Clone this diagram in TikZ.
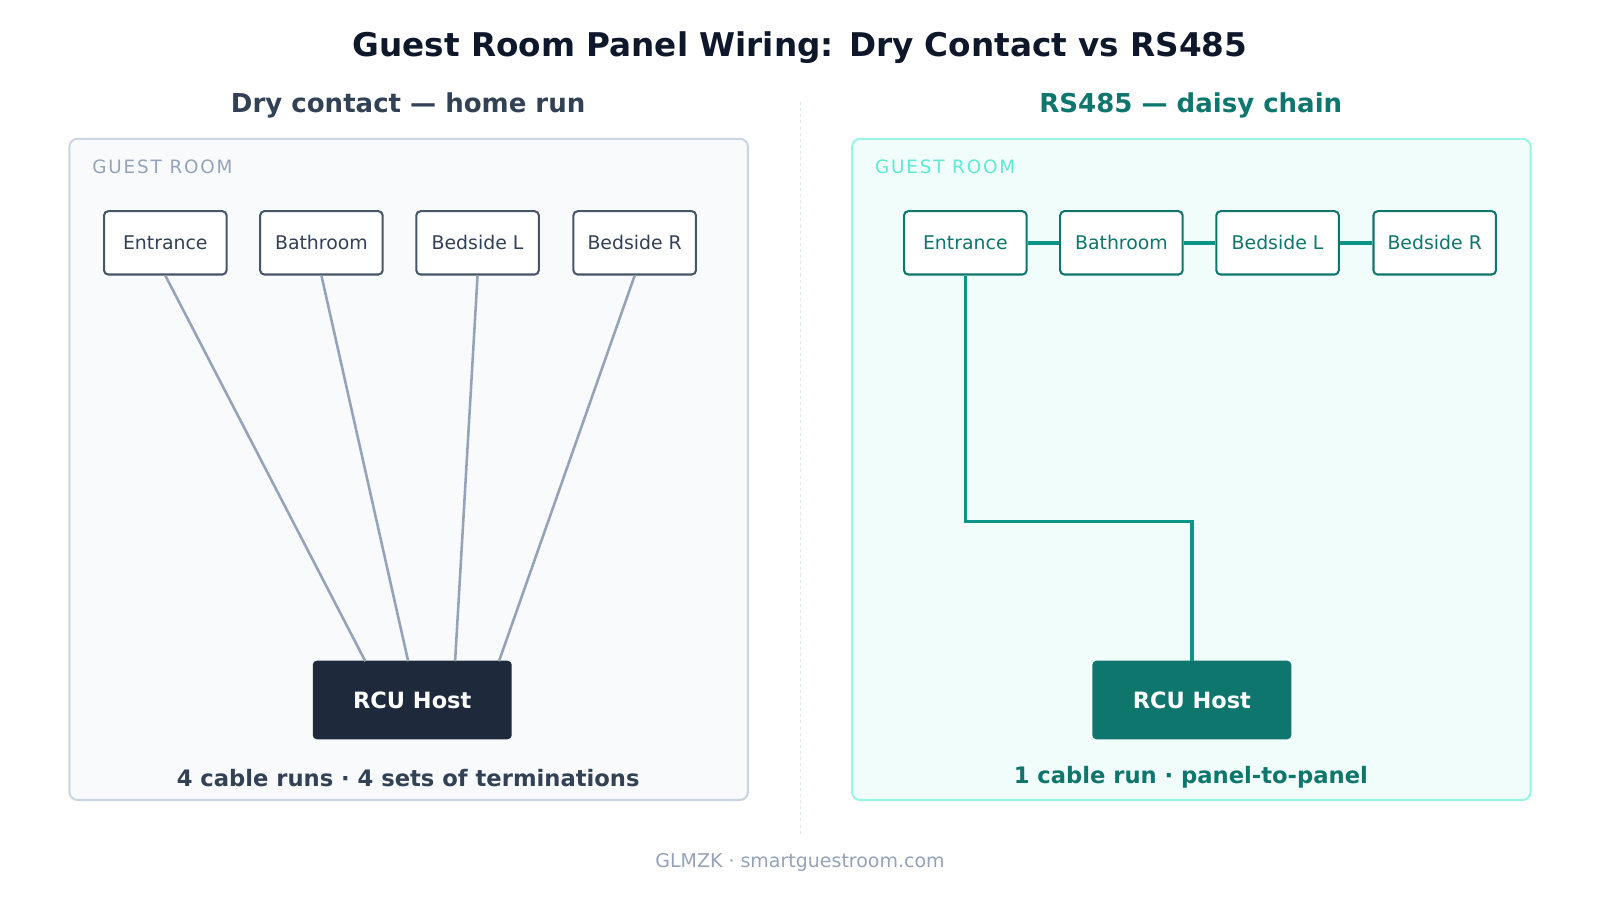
\documentclass[tikz,border=0pt]{standalone}
\usepackage{fontspec}
\setmainfont{DejaVu Sans}
\begin{document}
\begin{tikzpicture}[x=1pt,y=-1pt,
  panelL/.style={draw=nodeL,fill=white,line width=2pt,rounded corners=4pt,minimum width=120pt,minimum height=62pt,text=txtL,font=\fontsize{18.5}{20}\selectfont},
  panelR/.style={draw=nodeR,fill=white,line width=2pt,rounded corners=4pt,minimum width=120pt,minimum height=62pt,text=nodeR,font=\fontsize{18.5}{20}\selectfont},
  host/.style={rounded corners=4pt,minimum width=195pt,minimum height=77pt,text=white,font=\bfseries\fontsize{22}{24}\selectfont},
  wireL/.style={draw=lineL,line width=2.5pt},
  wireR/.style={draw=lineR,line width=3.5pt}]
\definecolor{nodeL}{HTML}{475569}\definecolor{txtL}{HTML}{334155}
\definecolor{lineL}{HTML}{94A3B8}\definecolor{nodeR}{HTML}{0F766E}
\definecolor{lineR}{HTML}{0D9488}
\useasboundingbox (0,0) rectangle (1568,886);
\fill[white] (0,0) rectangle (1568,886);
\node[font=\bfseries\fontsize{32}{34}\selectfont,text={rgb,255:red,15;green,23;blue,42}] (title) at (784,47) {Guest Room Panel Wiring: Dry Contact vs RS485};
\node[font=\bfseries\fontsize{25.5}{27}\selectfont,text=txtL] (subL) at (400,103) {Dry contact — home run};
\node[font=\bfseries\fontsize{25.5}{27}\selectfont,text=nodeR] (subR) at (1167,103) {RS485 — daisy chain};
\draw[dashed,draw={rgb,255:red,226;green,232;blue,240},line width=1pt] (784,100) -- (784,820);
\draw[fill={rgb,255:red,248;green,250;blue,252},draw={rgb,255:red,203;green,213;blue,225},line width=2pt,rounded corners=8pt] (68,136) rectangle (733,784);
\draw[fill={rgb,255:red,240;green,253;blue,250},draw={rgb,255:red,153;green,246;blue,228},line width=2pt,rounded corners=8pt] (835,136) rectangle (1500,784);
\node[anchor=west,text=lineL,font=\fontsize{18}{20}\selectfont\addfontfeature{LetterSpace=10}] (glL) at (87,163) {GUEST ROOM};
\node[anchor=west,text={rgb,255:red,94;green,234;blue,212},font=\fontsize{18}{20}\selectfont\addfontfeature{LetterSpace=10}] (glR) at (854,163) {GUEST ROOM};
\node[panelL] (e1) at (162,238) {Entrance};
\node[panelL] (b1) at (315,238) {Bathroom};
\node[panelL] (l1) at (468,238) {Bedside L};
\node[panelL] (r1) at (622,238) {Bedside R};
\node[host,fill={rgb,255:red,30;green,41;blue,59}] (h1) at (404,686) {RCU Host};
\coordinate (t1) at (358,648);\coordinate (t2) at (400,648);\coordinate (t3) at (446,648);\coordinate (t4) at (489,648);
\draw[wireL] (e1.south) -- (t1);\draw[wireL] (b1.south) -- (t2);
\draw[wireL] (l1.south) -- (t3);\draw[wireL] (r1.south) -- (t4);
\node[panelR] (e2) at (946,238) {Entrance};
\node[panelR] (b2) at (1099,238) {Bathroom};
\node[panelR] (l2) at (1252,238) {Bedside L};
\node[panelR] (r2) at (1406,238) {Bedside R};
\node[host,fill=nodeR] (h2) at (1168,686) {RCU Host};
\draw[wireR] (e2) -- (b2);\draw[wireR] (b2) -- (l2);\draw[wireR] (l2) -- (r2);
\draw[wireR] (e2.south) -- (946,511) -- (1168,511) -- (h2.north);
\node[font=\bfseries\fontsize{22.2}{24}\selectfont,text=txtL] (fL) at (400,762) {4 cable runs · 4 sets of terminations};
\node[font=\bfseries\fontsize{22.2}{24}\selectfont,text=nodeR] (fR) at (1167,762) {1 cable run · panel-to-panel};
\node[font=\fontsize{18.6}{20}\selectfont,text=lineL] (cr) at (784,845) {GLMZK · smartguestroom.com};
\end{tikzpicture}
\end{document}
